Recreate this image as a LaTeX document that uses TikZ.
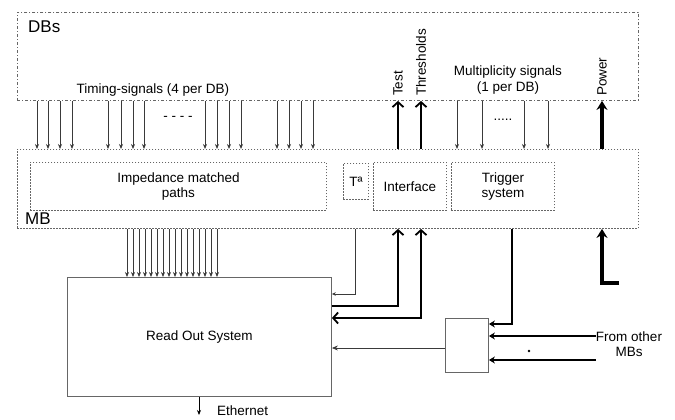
\documentclass[tikz,border=0pt]{standalone}
\usepackage{fontspec}
\setmainfont{Liberation Sans}
\usetikzlibrary{arrows.meta}
\definecolor{boxgray}{HTML}{666666}
\definecolor{siggray}{HTML}{3A3A3A}

\begin{document}
\begin{tikzpicture}[x=1pt,y=-1pt,font=\fontsize{13.5}{15.5}\selectfont,
  dbbox/.style={draw=boxgray,line width=0.9pt,dash pattern=on 3pt off 2pt on 1pt off 2pt,anchor=north west,inner sep=0pt},
  dotbox/.style={draw=boxgray,line width=0.9pt,dash pattern=on 1.5pt off 1.5pt,anchor=north west,inner sep=0pt,align=center},
  solidbox/.style={draw=boxgray,line width=0.9pt,anchor=north west,inner sep=0pt},
  sig/.style={draw=siggray,line width=0.8pt,-{Stealth[length=5pt,width=4pt]}},
  bus/.style={draw=black,line width=1.8pt,-{Straight Barb[length=5pt,width=11pt]}},
  pwr/.style={draw=black,line width=3.5pt,-{Stealth[length=9pt,width=11pt]}},
  lbl/.style={inner sep=0pt}]
\useasboundingbox (0,0) rectangle (675,420);
% boards
\node[dbbox,minimum width=621,minimum height=88] (db) at (17,12) {};
\node[dotbox,minimum width=621,minimum height=79] (mb) at (17,149) {};
\node[lbl,anchor=west,font=\fontsize{17}{19}\selectfont] (dbl) at (28,27) {DBs};
\node[lbl,anchor=west,font=\fontsize{17}{19}\selectfont] (mbl) at (25,219) {MB};
% blocks on the MB
\node[dotbox,minimum width=296,minimum height=48] (imp) at (30,162) {};
\node[lbl,align=center] (impl) at (imp.center) {Impedance matched\\paths};
\node[dotbox,minimum width=25,minimum height=36] (temp) at (343,163) {};
\node[lbl] (templ) at (temp.center) {Tª};
\node[dotbox,minimum width=73,minimum height=48] (intf) at (373,162) {};
\node[lbl] (intfl) at (intf.center) {Interface};
\node[dotbox,minimum width=103,minimum height=48] (trig) at (451,162) {};
\node[lbl,align=center] (trigl) at (trig.center) {Trigger\\system};
% read out and collector
\node[solidbox,minimum width=264,minimum height=119] (ros) at (67,277) {};
\node[lbl] (rosl) at (ros.center) {Read Out System};
\node[solidbox,minimum width=43,minimum height=54] (mux) at (445,318) {};
% labels
\node[lbl] (tim) at (153,90) {Timing-signals (4 per DB)};
\node[lbl] (timdots) at (178,118) {- - - -};
\node[lbl,align=center] (mult) at (508,80) {Multiplicity signals\\(1 per DB)};
\node[lbl] (multdots) at (503,120) {.....};
\node[lbl,anchor=west,rotate=90] (test) at (398,96) {Test};
\node[lbl,anchor=west,rotate=90] (thr) at (421,96) {Thresholds};
\node[lbl,anchor=west,rotate=90] (pow) at (602,96) {Power};
\node[lbl,align=center] (other) at (629,344) {From other\\MBs};
\node[lbl,anchor=west] (eth) at (217,411) {Ethernet};
\coordinate (pwin) at (619,283);
\coordinate (ethout) at (199,415);
% DB -> MB
\foreach \x in {37,48,60,72,108,121,133,144,205,217,229,241,277,289,301,313}
  \draw[sig] (\x,0 |- db.south) -- (\x,0 |- mb.north);
\foreach \x in {457,482,524,548}
  \draw[sig] (\x,0 |- db.south) -- (\x,0 |- mb.north);
\draw[bus] (398,0 |- mb.north) -- (398,0 |- db.south);
\draw[bus] (421,0 |- mb.north) -- (421,0 |- db.south);
\draw[pwr] (602,0 |- mb.north) -- (602,0 |- db.south);
% MB -> read out
\foreach \i in {0,...,15}
  \draw[sig] (127+6*\i,0 |- mb.south) -- (127+6*\i,0 |- ros.north);
\draw[sig,-{Stealth[length=4pt,width=3.5pt]}] (355,0 |- mb.south) |- (ros.east |- 0,294);
\draw[bus] (ros.east |- 0,306) -| (398,0 |- mb.south);
\draw[bus,{Straight Barb[length=5pt,width=11pt]}-{Straight Barb[length=5pt,width=11pt]}] (ros.east |- 0,318) -| (421,0 |- mb.south);
\draw[bus,-{Stealth[length=6pt,width=7pt]},line width=1.6pt] (512,0 |- mb.south) |- (mux.east |- 0,324);
\draw[bus,-{Stealth[length=6pt,width=7pt]},line width=1.6pt] (other.west |- 0,336) -- (mux.east |- 0,336);
\draw[bus,-{Stealth[length=6pt,width=7pt]},line width=1.6pt] (other.west |- 0,360) -- (mux.east |- 0,360);
\fill (529,351) circle (1.3);
\draw[sig,draw=siggray,-{Stealth[length=6pt,width=5pt]}] (mux.west |- 0,348) -- (ros.east |- 0,348);
\draw[pwr] (pwin) -| (602,0 |- mb.south);
\draw[sig,draw=black] (199,0 |- ros.south) -- (ethout);
\end{tikzpicture}
\end{document}
